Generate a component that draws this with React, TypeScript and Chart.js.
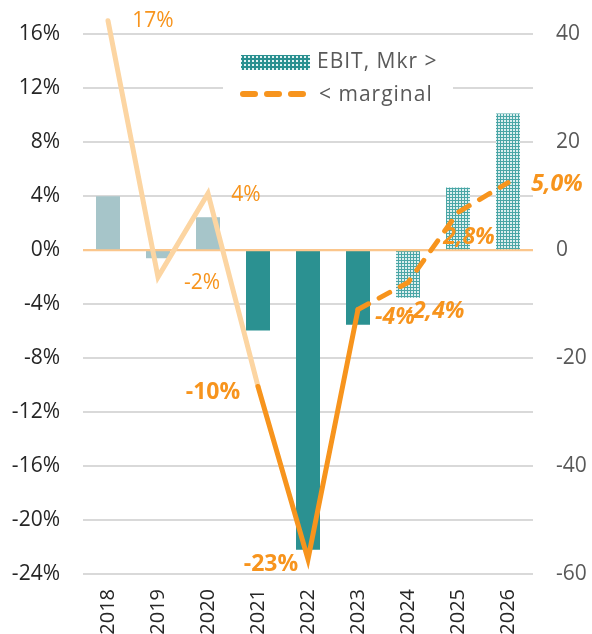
import { useEffect, useRef } from 'react';
import { Chart, registerables } from 'chart.js';

Chart.register(...registerables);

const years = ['2018', '2019', '2020', '2021', '2022', '2023', '2024', '2025', '2026'];
const ebitMkr = [10, -1.5, 6.1, -14.9, -55.5, -13.8, -8.8, 11.6, 25.3];
const marginPct = [17, -2, 4.2, -10.1, -22.9, -4.4, -2.4, 2.8, 5.0];
const marginLabels = ['17%', '-2%', '4%', '-10%', '-23%', '-4%', '-2,4%', '2,8%', '5,0%'];
const seriesNames = ['EBIT, Mkr >', '< marginal'];
const leftTicks = [-24, -20, -16, -12, -8, -4, 0, 4, 8, 12, 16];
const rightTicks = [-60, -40, -20, 0, 20, 40];

// styling (not data)
const FONT = '"Open Sans", "Noto Sans", sans-serif';
const ORANGE = '#f7941d';
const PEACH = '#fcd5a2';
const ZERO = '#fbc68c';
const GREYBLUE = '#a6c5c9';
const TEAL = '#2b9191';
const labelOffsets = [
  [45, 0], [44, 6], [38, 2], [-45, 6], [-37, 5], [37, 8], [27, 29], [11, 25], [49, 2],
];
const labelFonts = ['', '', '', 'bold ', 'bold ', 'italic bold ', 'italic bold ', 'italic bold ', 'italic bold '];

function makePattern(size: number, bg: string, fg: string, dot: number) {
  const c = document.createElement('canvas');
  c.width = size;
  c.height = size;
  const g = c.getContext('2d')!;
  g.fillStyle = bg;
  g.fillRect(0, 0, size, size);
  g.fillStyle = fg;
  g.fillRect(0, 0, dot, dot);
  return g.createPattern(c, 'repeat')!;
}

export default function App() {
  const ref = useRef<HTMLCanvasElement>(null);

  useEffect(() => {
    const canvas = ref.current!;
    const barPattern = makePattern(3, '#4aa6a6', '#dcefef', 2);
    const legendPattern = makePattern(4, '#2a9090', '#e4f3f3', 2);
    const barColors = ebitMkr.map((_, i) => (i < 3 ? GREYBLUE : i < 6 ? TEAL : barPattern));

    const zeroLinePlugin = {
      id: 'zeroLine',
      beforeDatasetDraw(chart: any, args: any) {
        if (args.meta.type !== 'line') return;
        const y = chart.scales.yL.getPixelForValue(0);
        const ctx = chart.ctx;
        ctx.save();
        ctx.strokeStyle = ZERO;
        ctx.lineWidth = 2;
        ctx.beginPath();
        ctx.moveTo(chart.chartArea.left, y);
        ctx.lineTo(chart.chartArea.right, y);
        ctx.stroke();
        ctx.restore();
      },
    };

    const labelsPlugin = {
      id: 'valueLabels',
      afterDatasetsDraw(chart: any) {
        const meta = chart.getDatasetMeta(0);
        const ctx = chart.ctx;
        ctx.save();
        ctx.fillStyle = ORANGE;
        ctx.textAlign = 'center';
        ctx.textBaseline = 'middle';
        meta.data.forEach((pt: any, i: number) => {
          const bold = labelFonts[i] !== '';
          ctx.font = `${labelFonts[i]}${bold ? 23 : 21}px ${FONT}`;
          ctx.fillText(marginLabels[i], pt.x + labelOffsets[i][0], pt.y + labelOffsets[i][1]);
        });
        ctx.restore();
      },
    };

    const legendPlugin = {
      id: 'customLegend',
      afterDraw(chart: any) {
        const ctx = chart.ctx;
        ctx.save();
        ctx.fillStyle = '#ffffff';
        ctx.fillRect(223, 42, 230, 68);
        ctx.fillStyle = legendPattern;
        ctx.fillRect(241, 55, 69, 15);
        ctx.strokeStyle = ORANGE;
        ctx.lineWidth = 6;
        ctx.lineCap = 'round';
        ctx.setLineDash([12, 12]);
        ctx.beginPath();
        ctx.moveTo(243, 94);
        ctx.lineTo(310, 94);
        ctx.stroke();
        ctx.setLineDash([]);
        ctx.fillStyle = '#595959';
        ctx.font = `21px ${FONT}`;
        (ctx as any).letterSpacing = '1px';
        ctx.textAlign = 'left';
        ctx.textBaseline = 'middle';
        ctx.fillText(seriesNames[0], 317, 62);
        ctx.fillText(seriesNames[1], 319, 95);
        ctx.restore();
      },
    };

    const chart = new Chart(canvas, {
      type: 'bar',
      data: {
        labels: years,
        datasets: [
          {
            type: 'line',
            label: seriesNames[1],
            data: marginPct,
            yAxisID: 'yL',
            borderWidth: 5,
            borderColor: ORANGE,
            borderCapStyle: 'round',
            borderJoinStyle: 'miter',
            pointRadius: 0,
            tension: 0,
            order: 0,
            segment: {
              borderColor: (c: any) => (c.p0DataIndex < 3 ? PEACH : ORANGE),
              borderDash: (c: any) => (c.p0DataIndex >= 5 ? [12, 12] : undefined),
            },
          } as any,
          {
            type: 'bar',
            label: seriesNames[0],
            data: ebitMkr,
            yAxisID: 'yR',
            backgroundColor: barColors as any,
            borderWidth: 0,
            categoryPercentage: 1,
            barPercentage: 0.48,
            order: 1,
          },
        ],
      },
      options: {
        responsive: false,
        animation: false,
        layout: { padding: { top: 14, left: 0, right: 0, bottom: 0 } },
        plugins: { legend: { display: false }, tooltip: { enabled: false } },
        scales: {
          x: {
            grid: { display: false, drawTicks: false },
            border: { display: false },
            ticks: {
              minRotation: 90,
              maxRotation: 90,
              padding: 15,
              color: '#262626',
              font: { family: FONT, size: 20 },
            },
            afterFit: (s: any) => {
              s.height = 60;
              s.paddingLeft = 0;
              s.paddingRight = 0;
            },
          },
          yL: {
            position: 'left',
            min: -24,
            max: 17.5,
            grid: {
              drawTicks: false,
              lineWidth: 2,
              color: (c: any) => (c.tick && c.tick.value === 0 ? ZERO : '#d9d9d9'),
            },
            border: { display: false },
            ticks: {
              padding: 23,
              color: '#262626',
              font: { family: FONT, size: 21 },
              callback: (v: any) => `${v}%`,
            },
            afterBuildTicks: (s: any) => {
              s.ticks = leftTicks.map((v) => ({ value: v }));
            },
            afterFit: (s: any) => {
              s.width = 83;
              s.paddingTop = 0;
              s.paddingBottom = 0;
            },
          },
          yR: {
            position: 'right',
            min: -60,
            max: 43.75,
            grid: { display: false, drawTicks: false },
            border: { display: false },
            ticks: {
              padding: 23,
              color: '#595959',
              font: { family: FONT, size: 21 },
            },
            afterBuildTicks: (s: any) => {
              s.ticks = rightTicks.map((v) => ({ value: v }));
            },
            afterFit: (s: any) => {
              s.width = 59;
              s.paddingTop = 0;
              s.paddingBottom = 0;
            },
          },
        },
      } as any,
      plugins: [zeroLinePlugin, labelsPlugin, legendPlugin],
    });
    return () => chart.destroy();
  }, []);

  return (
    <div style={{ position: 'fixed', left: 0, top: 0, width: 592, height: 634 }}>
      <canvas ref={ref} width={592} height={634} style={{ display: 'block' }} />
    </div>
  );
}
